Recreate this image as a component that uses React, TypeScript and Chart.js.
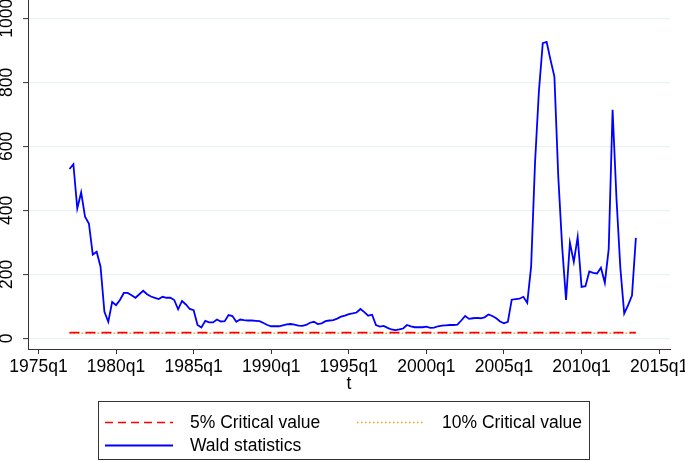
import React, { useEffect, useRef } from "react";
import { Chart, registerables } from "chart.js";

Chart.register(...registerables);

// ---------- data ----------
const firstQuarter = "1977q1";
const waldStatistics = [
  529, 544, 406, 456, 380, 359, 262, 271, 224, 83,
  52, 114, 104, 120, 142, 142, 135, 127, 138, 149,
  138, 131, 127, 123, 130, 127, 127, 120, 91, 117,
  106, 92, 88, 42, 34, 55, 50, 50, 59, 53,
  54, 73, 70, 52, 59, 57, 56, 56, 55, 54,
  48, 42, 38, 38, 38, 41, 44, 45, 43, 40,
  39, 42, 49, 52, 45, 47, 54, 56, 57, 62,
  68, 71, 76, 78, 81, 92, 82, 71, 74, 42,
  37, 39, 33, 28, 26, 28, 31, 42, 38, 35,
  35, 35, 37, 33, 34, 38, 40, 41, 42, 42,
  43, 56, 70, 61, 63, 64, 63, 66, 75, 70,
  63, 53, 47, 52, 121, 123, 124, 130, 111, 224,
  547, 771, 922, 926, 870, 818, 505, 286, 120, 299,
  239, 317, 161, 163, 209, 205, 203, 221, 174, 279,
  714, 438, 220, 78, 104, 134, 314,
];
const criticalValue5 = 18;
const criticalValue10 = 16;
const xTickLabels = ["1975q1", "1980q1", "1985q1", "1990q1", "1995q1", "2000q1", "2005q1", "2010q1", "2015q1"];
const yTickValues = [0, 200, 400, 600, 800, 1000];
const xAxisTitle = "t";
const legendLabels = ["5% Critical value", "10% Critical value", "Wald statistics"];

// ---------- helpers ----------
const FONT = '"Liberation Sans", Arial, Helvetica, sans-serif';
const FONT_SIZE = 17.5;

function parseQuarter(s: string): number {
  const m = /^(\d{4})q(\d)$/.exec(s)!;
  return (Number(m[1]) - 1960) * 4 + Number(m[2]) - 1;
}
function formatQuarter(t: number): string {
  const y = 1960 + Math.floor(t / 4);
  const q = t - (y - 1960) * 4 + 1;
  return `${y}q${q}`;
}

const stataPlugin = {
  id: "stataExtras",
  afterDraw(chart: any) {
    const ctx: CanvasRenderingContext2D = chart.ctx;
    const ys = chart.scales.y;
    ctx.save();
    ctx.fillStyle = "#000";
    ctx.font = `${FONT_SIZE}px ${FONT}`;
    ctx.textAlign = "center";
    ctx.textBaseline = "middle";
    for (const t of ys.ticks) {
      const py = ys.getPixelForValue(t.value);
      ctx.save();
      ctx.translate(ys.left + 7.5, py);
      ctx.rotate(-Math.PI / 2);
      ctx.fillText(String(t.value), 0, 0);
      ctx.restore();
    }
    ctx.restore();

    // legend box
    ctx.save();
    ctx.strokeStyle = "#333";
    ctx.lineWidth = 1;
    ctx.strokeRect(98.5, 401.5, 491, 58);
    const entries = [
      { ds: 0, x: 105, y: 422 },
      { ds: 1, x: 357, y: 422 },
      { ds: 2, x: 105, y: 445 },
    ];
    for (const e of entries) {
      const ds = chart.data.datasets[e.ds];
      ctx.save();
      ctx.strokeStyle = ds.borderColor;
      ctx.lineWidth = ds.borderWidth;
      ctx.setLineDash(ds.legendDash || ds.borderDash || []);
      ctx.beginPath();
      ctx.moveTo(e.x, e.y + 0.5);
      ctx.lineTo(e.x + 68, e.y + 0.5);
      ctx.stroke();
      ctx.restore();
      ctx.fillStyle = "#000";
      ctx.font = `${FONT_SIZE}px ${FONT}`;
      ctx.textAlign = "left";
      ctx.textBaseline = "middle";
      ctx.fillText(ds.label, e.x + 85, e.y + 1);
    }
    ctx.restore();
  },
};

export default function App() {
  const ref = useRef<HTMLCanvasElement | null>(null);
  useEffect(() => {
    document.body.style.margin = "0";
    const x0 = parseQuarter(firstQuarter);
    const xLast = x0 + waldStatistics.length - 1;
    const waldPoints = waldStatistics.map((v, i) => ({ x: x0 + i, y: v }));
    const chart = new Chart(ref.current as HTMLCanvasElement, {
      type: "line",
      data: {
        datasets: [
          {
            label: legendLabels[0],
            data: [{ x: x0, y: criticalValue5 }, { x: xLast, y: criticalValue5 }],
            borderColor: "#ff0000",
            borderWidth: 1.6,
            borderDash: [10, 6],
            legendDash: [8, 5],
            pointRadius: 0,
            order: 2,
          } as any,
          {
            label: legendLabels[1],
            data: [{ x: x0, y: criticalValue10 }, { x: xLast, y: criticalValue10 }],
            borderColor: "#ff9a1a",
            borderWidth: 1.6,
            borderDash: [1.5, 2.5],
            pointRadius: 0,
            order: 3,
          } as any,
          {
            label: legendLabels[2],
            data: waldPoints,
            borderColor: "#0000ff",
            borderWidth: 1.8,
            pointRadius: 0,
            tension: 0,
            order: 1,
          } as any,
        ],
      },
      options: {
        responsive: false,
        animation: false,
        layout: { padding: { left: 0, right: 15, top: 0, bottom: 63 } },
        plugins: { legend: { display: false }, tooltip: { enabled: false } },
        scales: {
          x: {
            type: "linear",
            min: 57.3,
            max: 222.8,
            afterBuildTicks: (s: any) => {
              s.ticks = xTickLabels.map((l) => ({ value: parseQuarter(l) }));
            },
            afterFit: (s: any) => {
              s.height = 50;
              s.paddingLeft = 0;
              s.paddingRight = 0;
            },
            ticks: {
              callback: (v: any) => formatQuarter(Number(v)),
              font: { family: FONT, size: FONT_SIZE },
              color: "#000",
              padding: 3,
              maxRotation: 0,
              minRotation: 0,
              autoSkip: false,
            },
            grid: {
              display: true,
              drawOnChartArea: false,
              drawTicks: true,
              tickLength: 5,
              tickColor: "#333",
              tickWidth: 1,
            },
            border: { display: true, color: "#333", width: 1 },
            title: {
              display: true,
              text: xAxisTitle,
              font: { family: FONT, size: FONT_SIZE },
              color: "#000",
              padding: { top: 0, bottom: 4 },
            },
          },
          y: {
            type: "linear",
            min: -33,
            max: 1057,
            afterBuildTicks: (s: any) => {
              s.ticks = yTickValues.map((v) => ({ value: v }));
            },
            afterFit: (s: any) => {
              s.width = 28;
              s.paddingTop = 0;
              s.paddingBottom = 0;
            },
            ticks: { display: false },
            grid: {
              color: "#e9f1f3",
              lineWidth: 1.2,
              drawTicks: true,
              tickLength: 5,
              tickColor: "#333",
              tickWidth: 1,
            },
            border: { display: true, color: "#333", width: 1 },
          },
        },
      } as any,
      plugins: [stataPlugin],
    });
    return () => chart.destroy();
  }, []);
  return (
    <div style={{ width: 685, height: 462 }}>
      <canvas ref={ref} width={685} height={462} style={{ display: "block" }} />
    </div>
  );
}
